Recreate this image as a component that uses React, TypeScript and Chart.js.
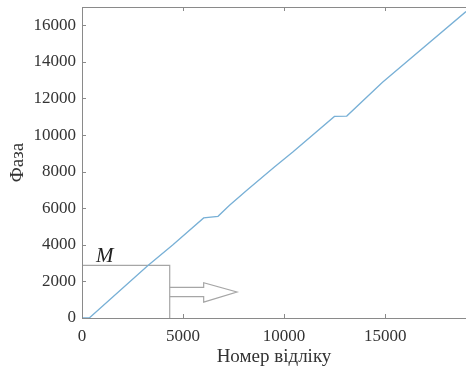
import React, { useEffect, useRef } from "react";
import { Chart, registerables } from "chart.js";

Chart.register(...registerables);

// Main series: phase vs. sample number
const SAMPLE_X = [0, 360, 3250, 4500, 6020, 6730, 7300, 8200, 9520, 10430, 12490, 13100, 14870, 19000];
const PHASE_Y = [0, 0, 2850, 4000, 5470, 5560, 6160, 7020, 8250, 9070, 11020, 11040, 12890, 16750];

// Annotation box "M"
const BOX_X = [0, 4340, 4340];
const BOX_Y = [2880, 2880, 0];
const BOX_LABEL = "M";
const BOX_LABEL_X = 690;
const BOX_LABEL_Y = 3070;

// Outline arrow pointing right
const ARROW_X = [4340, 6020, 6020, 7665, 6020, 6020, 4340];
const ARROW_Y = [1675, 1675, 1930, 1420, 870, 1164, 1164];

// Axes
const X_MIN = 0;
const X_MAX = 19000;
const Y_MIN = 0;
const Y_MAX = 17000;
const X_TICKS = [0, 5000, 10000, 15000];
const Y_TICKS = [0, 2000, 4000, 6000, 8000, 10000, 12000, 14000, 16000];
const X_TITLE = "Номер відліку";
const Y_TITLE = "Фаза";

const AXIS_COLOR = "#8a8a8a";
const TEXT_COLOR = "#333333";
const LINE_COLOR = "#78b0d6";
const BOX_COLOR = "#a6a6a6";
const FONT = "'Liberation Serif', 'DejaVu Serif', serif";

const toPts = (xs: number[], ys: number[]) => xs.map((x, i) => ({ x, y: ys[i] }));

const framePlugin = {
  id: "frame",
  afterDraw(chart: any) {
    const { ctx, chartArea, scales } = chart;
    const xs = scales.x;
    const ys = scales.y;
    ctx.save();
    ctx.strokeStyle = AXIS_COLOR;
    ctx.lineWidth = 1;
    ctx.beginPath();
    ctx.rect(chartArea.left + 0.5, chartArea.top + 0.5, chartArea.right - chartArea.left, chartArea.bottom - chartArea.top);
    ctx.stroke();
    const t = 4;
    ctx.beginPath();
    X_TICKS.forEach((v) => {
      const px = Math.round(xs.getPixelForValue(v)) + 0.5;
      ctx.moveTo(px, chartArea.bottom);
      ctx.lineTo(px, chartArea.bottom - t);
      ctx.moveTo(px, chartArea.top);
      ctx.lineTo(px, chartArea.top + t);
    });
    Y_TICKS.forEach((v) => {
      const py = Math.round(ys.getPixelForValue(v)) + 0.5;
      ctx.moveTo(chartArea.left, py);
      ctx.lineTo(chartArea.left + t, py);
    });
    ctx.stroke();
    ctx.fillStyle = "#222";
    ctx.font = `italic 21px ${FONT}`;
    ctx.textAlign = "left";
    ctx.textBaseline = "alphabetic";
    ctx.fillText(BOX_LABEL, xs.getPixelForValue(BOX_LABEL_X), ys.getPixelForValue(BOX_LABEL_Y));
    ctx.restore();
  },
};

export default function App() {
  const ref = useRef<HTMLCanvasElement | null>(null);

  useEffect(() => {
    if (!ref.current) return;
    const chart = new Chart(ref.current, {
      type: "scatter",
      data: {
        datasets: [
          {
            data: toPts(SAMPLE_X, PHASE_Y),
            showLine: true,
            borderColor: LINE_COLOR,
            borderWidth: 1.3,
            pointRadius: 0,
            tension: 0,
            fill: false,
          },
          {
            data: toPts(BOX_X, BOX_Y),
            showLine: true,
            borderColor: BOX_COLOR,
            borderWidth: 1.2,
            pointRadius: 0,
            fill: false,
          },
          {
            data: toPts(ARROW_X, ARROW_Y),
            showLine: true,
            borderColor: BOX_COLOR,
            borderWidth: 1.2,
            pointRadius: 0,
            fill: false,
          },
        ],
      },
      options: {
        animation: false,
        responsive: false,
        devicePixelRatio: 1,
        layout: { padding: { top: 7, right: 0, left: 0, bottom: 0 } },
        plugins: { legend: { display: false }, tooltip: { enabled: false } },
        scales: {
          x: {
            type: "linear",
            min: X_MIN,
            max: X_MAX,
            grid: { display: false, drawTicks: false },
            border: { display: false },
            afterBuildTicks: (s: any) => {
              s.ticks = X_TICKS.map((v) => ({ value: v }));
            },
            afterFit: (s: any) => {
              s.height = 54;
              s.paddingLeft = 0;
              s.paddingRight = 0;
            },
            ticks: {
              color: TEXT_COLOR,
              font: { family: FONT, size: 17 },
              padding: 8,
              maxRotation: 0,
              callback: (v: any) => String(v),
            },
            title: {
              display: true,
              text: X_TITLE,
              color: TEXT_COLOR,
              font: { family: FONT, size: 19 },
              padding: { top: 0, bottom: 4 },
            },
          },
          y: {
            type: "linear",
            min: Y_MIN,
            max: Y_MAX,
            grid: { display: false, drawTicks: false },
            border: { display: false },
            afterBuildTicks: (s: any) => {
              s.ticks = Y_TICKS.map((v) => ({ value: v }));
            },
            afterFit: (s: any) => {
              s.width = 82;
              s.paddingTop = 0;
              s.paddingBottom = 0;
            },
            ticks: {
              color: TEXT_COLOR,
              font: { family: FONT, size: 17 },
              padding: 6,
              callback: (v: any) => String(v),
            },
            title: {
              display: true,
              text: Y_TITLE,
              color: TEXT_COLOR,
              font: { family: FONT, size: 19 },
              padding: { top: 7, bottom: 0 },
            },
          },
        },
      },
      plugins: [framePlugin],
    });
    return () => chart.destroy();
  }, []);

  return (
    <div style={{ position: "fixed", left: 0, top: 0, width: 466, height: 372, overflow: "hidden", background: "#fff" }}>
      <canvas ref={ref} width={466} height={372} style={{ display: "block", width: 466, height: 372 }} />
    </div>
  );
}
